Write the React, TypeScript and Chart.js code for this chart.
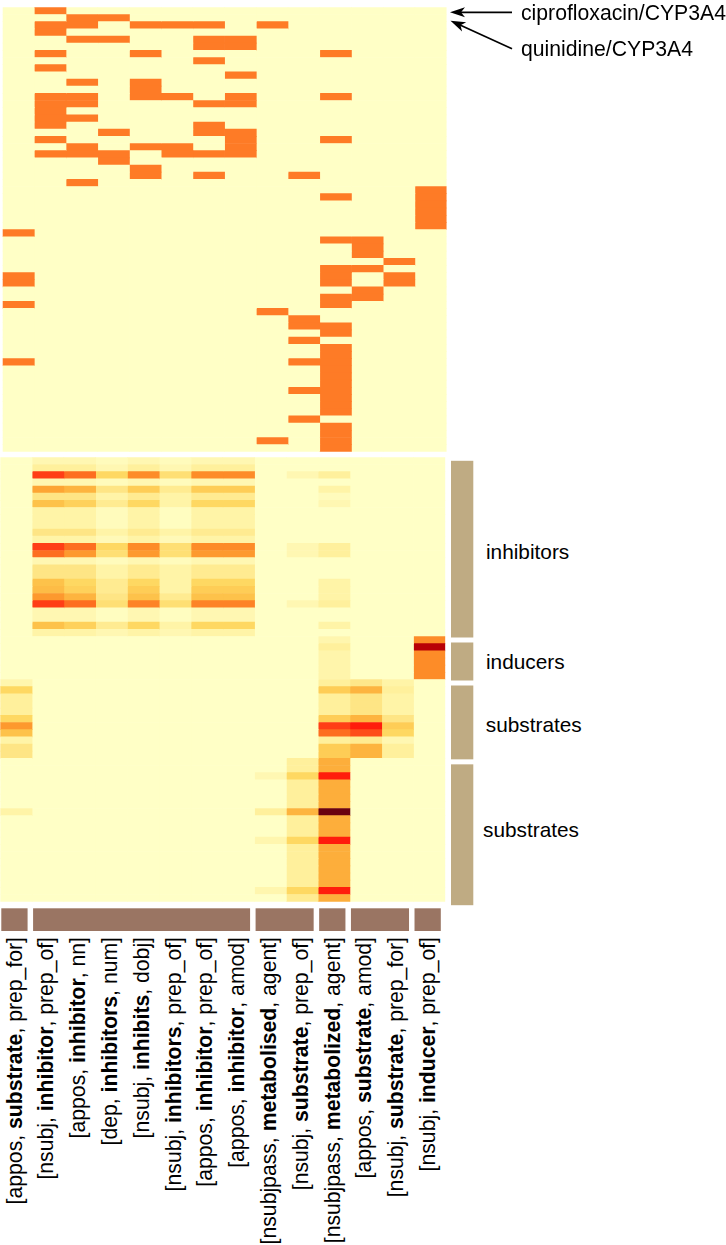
import React, { useEffect, useRef, useState } from 'react';
import { Chart, registerables } from 'chart.js';

Chart.register(...registerables);

// ---------------- data ----------------
const COLUMN_COUNT = 14;

const COL_DEP_LEFT = ['appos', 'nsubj', 'appos', 'dep', 'nsubj', 'nsubj', 'appos', 'appos', 'nsubjpass', 'nsubj', 'nsubjpass', 'appos', 'nsubj', 'nsubj'];
const COL_KEYWORD = ['substrate', 'inhibitor', 'inhibitor', 'inhibitors', 'inhibits', 'inhibitors', 'inhibitor', 'inhibitor', 'metabolised', 'substrate', 'metabolized', 'substrate', 'substrate', 'inducer'];
const COL_DEP_RIGHT = ['prep_for', 'prep_of', 'nn', 'num', 'dobj', 'prep_of', 'prep_of', 'amod', 'agent', 'prep_of', 'agent', 'amod', 'prep_for', 'prep_of'];
const COL_GROUPS: [number, number][] = [[0, 1], [1, 8], [8, 10], [10, 11], [11, 13], [13, 14]];

const ROW_GROUP_LABELS = ['inhibitors', 'inducers', 'substrates', 'substrates'];
const ROW_GROUP_BOUNDS: [number, number][] = [[0, 25], [25, 31], [31, 42], [42, 62]];

const ARROW_LABELS = ['ciprofloxacin/CYP3A4', 'quinidine/CYP3A4'];

// top heatmap: for every row, the columns that are present
const TOP_HITS_INHIBITORS: number[][] = [
  [1], [2, 3], [1, 2, 4, 5, 6, 8], [1], [2, 3, 6, 7], [6, 7], [1, 4, 10], [6], [1], [7],
  [2, 4], [4], [1, 2, 4, 5, 7, 10], [1, 2, 6, 7], [1], [1, 2], [1, 6], [3, 6, 7], [1, 7, 10], [2, 4, 5, 7],
  [1, 2, 3, 5, 6, 7], [3], [4], [4, 6, 9], [2],
];
const TOP_HITS_INDUCERS: number[][] = [[13], [10, 13], [13], [13], [13], [13]];
const TOP_HITS_SUBSTRATES_A: number[][] = [[0], [10, 11], [11], [11], [12], [10, 11], [0, 10, 12], [0, 10, 12], [11], [10, 11], [0, 10]];
const TOP_HITS_SUBSTRATES_B: number[][] = [
  [8], [9], [9, 10], [10], [9], [10], [10], [0, 9, 10], [10], [10],
  [10], [9, 10], [10], [10], [10], [9], [10], [10], [8, 10], [10],
];

// bottom heatmap: graded scores (0 = none ... 12 = highest)
const BOTTOM_INHIBITORS: number[][] = [
  [0, 1, 1, 0.5, 1, 0.5, 1, 1, 0, 0, 0, 0, 0, 0],
  [0, 2, 2, 1, 2, 1, 2, 2, 0, 0, 0, 0, 0, 0],
  [0, 9, 8, 4, 7, 3.5, 7, 7, 0, 1, 2, 0, 0, 0],
  [0, 1, 1, 0.5, 1, 0.5, 1, 1, 0, 0, 0, 0, 0, 0],
  [0, 6, 5.5, 3, 4.5, 2.5, 4.5, 4.5, 0, 0, 1.5, 0, 0, 0],
  [0, 3, 3, 1.5, 2.5, 1.5, 2.5, 2.5, 0, 0, 0.5, 0, 0, 0],
  [0, 5, 4.3, 2.5, 4, 1.5, 4, 4, 0, 0, 1, 0, 0, 0],
  [0, 1.5, 1.5, 0.5, 1.5, 0.3, 1.5, 1.5, 0, 0, 0, 0, 0, 0],
  [0, 1.5, 1.5, 0.5, 1.5, 0.3, 1.5, 1.5, 0, 0, 0, 0, 0, 0],
  [0, 1.5, 1.5, 0.5, 1.5, 0.3, 1.5, 1.5, 0, 0, 0, 0, 0, 0],
  [0, 3, 3, 1.5, 2.5, 1.5, 2.5, 2.5, 0, 0, 0, 0, 0, 0],
  [0, 1.5, 1.5, 0.7, 1.5, 0.7, 1.5, 1.5, 0, 0, 0, 0, 0, 0],
  [0, 9, 8, 4, 7, 3.5, 7, 7, 0, 1, 2, 0, 0, 0],
  [0, 8, 6.5, 3.5, 6.5, 3.5, 6.5, 6.5, 0, 1, 2, 0, 0, 0],
  [0, 1, 1, 0.5, 1, 0.5, 1, 1, 0, 0, 0, 0, 0, 0],
  [0, 3, 3, 1.5, 2.5, 1.5, 2.5, 2.5, 0, 0, 0, 0, 0, 0],
  [0, 3, 3, 1.5, 2.5, 1.5, 2.5, 2.5, 0, 0, 0, 0, 0, 0],
  [0, 5, 4, 2.5, 4, 1.5, 4, 4, 0, 0, 1.5, 0, 0, 0],
  [0, 5.2, 4.3, 2.5, 4.5, 1.5, 4.5, 4.5, 0, 0, 1.5, 0, 0, 0],
  [0, 6.5, 5.5, 3, 5, 2.5, 5, 5, 0, 0, 1.5, 0, 0, 0],
  [0, 9, 8, 3.5, 7.3, 3.5, 7.3, 7.3, 0, 1, 2, 0, 0, 0],
  [0, 1, 1, 0.3, 1, 0.3, 1, 1, 0, 0, 0, 0, 0, 0],
  [0, 1, 1, 0.3, 1, 0.3, 1, 1, 0, 0, 0, 0, 0, 0],
  [0, 5, 4.3, 2.5, 4, 1.5, 4, 4, 0, 0, 1.5, 0, 0, 0],
  [0, 1.5, 1.5, 1, 1.5, 1, 1.5, 1.5, 0, 0, 0, 0, 0, 0],
];
const BOTTOM_INDUCERS: number[][] = [
  [0, 0, 0, 0, 0, 0, 0, 0, 0, 0, 1.2, 0, 0, 7],
  [0, 0, 0, 0, 0, 0, 0, 0, 0, 0, 2, 0, 0, 11],
  [0, 0, 0, 0, 0, 0, 0, 0, 0, 0, 1.3, 0, 0, 7],
  [0, 0, 0, 0, 0, 0, 0, 0, 0, 0, 1.3, 0, 0, 7],
  [0, 0, 0, 0, 0, 0, 0, 0, 0, 0, 1.3, 0, 0, 7],
  [0, 0, 0, 0, 0, 0, 0, 0, 0, 0, 1.3, 0, 0, 7],
];
const BOTTOM_SUBSTRATES_A: number[][] = [
  [1.2, 0, 0, 0, 0, 0, 0, 0, 0, 0, 2, 2.8, 1.5, 0],
  [4, 0, 0, 0, 0, 0, 0, 0, 0, 0, 4.5, 5.5, 2, 0],
  [2, 0, 0, 0, 0, 0, 0, 0, 0, 0, 2, 3, 1.5, 0],
  [2, 0, 0, 0, 0, 0, 0, 0, 0, 0, 2, 3, 1.5, 0],
  [2, 0, 0, 0, 0, 0, 0, 0, 0, 0, 2, 3, 1.5, 0],
  [4, 0, 0, 0, 0, 0, 0, 0, 0, 0, 4.5, 5.5, 3, 0],
  [6.5, 0, 0, 0, 0, 0, 0, 0, 0, 0, 9, 10, 4.5, 0],
  [5, 0, 0, 0, 0, 0, 0, 0, 0, 0, 8, 8.7, 4, 0],
  [1.5, 0, 0, 0, 0, 0, 0, 0, 0, 0, 2, 2.5, 1, 0],
  [3, 0, 0, 0, 0, 0, 0, 0, 0, 0, 4.5, 5.5, 2, 0],
  [3, 0, 0, 0, 0, 0, 0, 0, 0, 0, 4.5, 5.5, 2, 0],
];
const BOTTOM_SUBSTRATES_B: number[][] = [
  [0, 0, 0, 0, 0, 0, 0, 0, 0, 2, 5.7, 0, 0, 0],
  [0, 0, 0, 0, 0, 0, 0, 0, 0, 2, 5.7, 0, 0, 0],
  [0, 0, 0, 0, 0, 0, 0, 0, 1, 4, 10, 0, 0, 0],
  [0, 0, 0, 0, 0, 0, 0, 0, 0, 2, 5.7, 0, 0, 0],
  [0, 0, 0, 0, 0, 0, 0, 0, 0, 2, 5.7, 0, 0, 0],
  [0, 0, 0, 0, 0, 0, 0, 0, 0, 2, 5.7, 0, 0, 0],
  [0, 0, 0, 0, 0, 0, 0, 0, 0, 2, 5.7, 0, 0, 0],
  [1.5, 0, 0, 0, 0, 0, 0, 0, 2, 5.5, 12, 0, 0, 0],
  [0, 0, 0, 0, 0, 0, 0, 0, 0, 2, 5.7, 0, 0, 0],
  [0, 0, 0, 0, 0, 0, 0, 0, 0, 2, 5.7, 0, 0, 0],
  [0, 0, 0, 0, 0, 0, 0, 0, 0, 2, 5.7, 0, 0, 0],
  [0, 0, 0, 0, 0, 0, 0, 0, 1.2, 4, 10, 0, 0, 0],
  [0, 0, 0, 0, 0, 0, 0, 0, 0, 2, 5.7, 0, 0, 0],
  [0, 0, 0, 0, 0, 0, 0, 0, 0, 2, 5.7, 0, 0, 0],
  [0, 0, 0, 0, 0, 0, 0, 0, 0, 2, 5.7, 0, 0, 0],
  [0, 0, 0, 0, 0, 0, 0, 0, 0, 2, 5.7, 0, 0, 0],
  [0, 0, 0, 0, 0, 0, 0, 0, 0, 2, 5.7, 0, 0, 0],
  [0, 0, 0, 0, 0, 0, 0, 0, 0, 2, 5.7, 0, 0, 0],
  [0, 0, 0, 0, 0, 0, 0, 0, 1.2, 4, 10, 0, 0, 0],
  [0, 0, 0, 0, 0, 0, 0, 0, 0, 2.5, 5.7, 0, 0, 0],
];

// ---------------- styles ----------------
const PALE = '#FFFFC6';
const HIT = '#FE7B26';
const COL_GROUP_COLOR = '#9A7563';
const ROW_GROUP_COLOR = '#BFAB83';
const FONT = '"Liberation Sans", Arial, Helvetica, sans-serif';
const HEAT_STOPS: [number, string][] = [
  [0, '#FFFFC6'], [1, '#FFF7B2'], [2, '#FFF09C'], [3, '#FEE585'], [4, '#FED862'],
  [5, '#FDC24A'], [6, '#FDA534'], [7, '#FD8C28'], [8, '#FD6E20'], [9, '#FF3E16'],
  [10, '#FF1C0C'], [11, '#B80006'], [12, '#6A0010'],
];

function hexRgb(h: string): number[] {
  return [parseInt(h.slice(1, 3), 16), parseInt(h.slice(3, 5), 16), parseInt(h.slice(5, 7), 16)];
}
function heatColor(v: number): string {
  if (v <= HEAT_STOPS[0][0]) return HEAT_STOPS[0][1];
  for (let i = 1; i < HEAT_STOPS.length; i++) {
    const [v1, c1] = HEAT_STOPS[i];
    if (v <= v1) {
      const [v0, c0] = HEAT_STOPS[i - 1];
      const t = (v - v0) / (v1 - v0);
      const a = hexRgb(c0), b = hexRgb(c1);
      const m = a.map((x, k) => Math.round(x + (b[k] - x) * t));
      return `rgb(${m[0]},${m[1]},${m[2]})`;
    }
  }
  return HEAT_STOPS[HEAT_STOPS.length - 1][1];
}

function hitsToMatrix(hits: number[][]): number[][] {
  return hits.map((h) => Array.from({ length: COLUMN_COUNT }, (_, c) => (h.includes(c) ? 1 : 0)));
}

function heatmapConfig(rows: number[][], colorOf: (v: number) => string, padding: any, plugins: any[]) {
  const labels = rows.map((_, i) => String(i));
  const datasets = Array.from({ length: COLUMN_COUNT }, (_, c) => ({
    label: `${COL_DEP_LEFT[c]} ${COL_KEYWORD[c]} ${COL_DEP_RIGHT[c]}`,
    data: rows.map(() => 1),
    backgroundColor: rows.map((r) => colorOf(r[c])),
    borderWidth: 0,
    barPercentage: 1,
    categoryPercentage: 1,
    stack: 'cells',
  }));
  return {
    type: 'bar' as const,
    data: { labels, datasets },
    plugins,
    options: {
      indexAxis: 'y' as const,
      responsive: false,
      animation: false as const,
      events: [],
      layout: { padding },
      plugins: { legend: { display: false }, tooltip: { enabled: false } },
      scales: {
        x: { stacked: true, min: 0, max: COLUMN_COUNT, display: false },
        y: { stacked: true, display: false },
      },
    },
  };
}

const groupBarsPlugin = {
  id: 'groupBars',
  afterDatasetsDraw(chart: any) {
    const { ctx, chartArea, scales } = chart;
    const xs = scales.x;
    const ys = scales.y;
    const nRows = chart.data.labels.length;
    const band = (chartArea.bottom - chartArea.top) / nRows;
    ctx.save();
    ctx.fillStyle = COL_GROUP_COLOR;
    COL_GROUPS.forEach(([s, e]) => {
      const x0 = xs.getPixelForValue(s) + 1;
      const x1 = xs.getPixelForValue(e) - 4.5;
      ctx.fillRect(x0, chartArea.bottom + 6.6, x1 - x0, 22.7);
    });
    ctx.fillStyle = ROW_GROUP_COLOR;
    const last = ROW_GROUP_BOUNDS.length - 1;
    ROW_GROUP_BOUNDS.forEach(([s, e], i) => {
      const y0 = ys.getPixelForValue(s) - band / 2 + 3.5 + (i > 0 ? 2.5 : 0);
      const y1 = ys.getPixelForValue(e - 1) + band / 2 + 3.5 - (i < last ? 2.5 : 0);
      ctx.fillRect(chartArea.right + 5.7, y0, 22.3, y1 - y0);
    });
    ctx.restore();
  },
};

const BOTTOM_TOP = 450;
const LABEL_TOP = 937;
const ROW_LABEL_SHIFT: [number, number][] = [[12.7, 1], [12.7, 0], [12.5, 2], [9.7, -5]];

function arrowHead(tx: number, ty: number, fx: number, fy: number): string {
  const dx = tx - fx, dy = ty - fy;
  const len = Math.hypot(dx, dy);
  const ux = dx / len, uy = dy / len;
  const nx = -uy, ny = ux;
  const L = 15, W = 5, N = 11;
  const p = [
    [tx, ty],
    [tx - L * ux + W * nx, ty - L * uy + W * ny],
    [tx - N * ux, ty - N * uy],
    [tx - L * ux - W * nx, ty - L * uy - W * ny],
  ];
  return p.map((q) => q.join(',')).join(' ');
}

export default function App() {
  const topRef = useRef<HTMLCanvasElement>(null);
  const botRef = useRef<HTMLCanvasElement>(null);
  const [layout, setLayout] = useState<{ cols: number[]; groups: number[]; right: number } | null>(null);

  useEffect(() => {
    const topRows = hitsToMatrix([...TOP_HITS_INHIBITORS, ...TOP_HITS_INDUCERS, ...TOP_HITS_SUBSTRATES_A, ...TOP_HITS_SUBSTRATES_B]);
    const botRows = [...BOTTOM_INHIBITORS, ...BOTTOM_INDUCERS, ...BOTTOM_SUBSTRATES_A, ...BOTTOM_SUBSTRATES_B];
    const top = new Chart(
      topRef.current!,
      heatmapConfig(topRows, (v) => (v > 0 ? HIT : PALE), { top: 7.3, left: 2.6, right: 3.4, bottom: 4.2 }, []) as any
    );
    const bot = new Chart(
      botRef.current!,
      heatmapConfig(botRows, heatColor, { top: 7.3, left: 0.3, right: 34.7, bottom: 32.3 }, [groupBarsPlugin]) as any
    );
    const xs: any = bot.scales.x;
    const ys: any = bot.scales.y;
    setLayout({
      cols: Array.from({ length: COLUMN_COUNT }, (_, i) => xs.getPixelForValue(i + 0.5)),
      groups: ROW_GROUP_BOUNDS.map(([s, e]) => BOTTOM_TOP + (ys.getPixelForValue(s) + ys.getPixelForValue(e - 1)) / 2 + 3.5),
      right: bot.chartArea.right + 5.7 + 22.3,
    });
    return () => {
      top.destroy();
      bot.destroy();
    };
  }, []);

  return (
    <div style={{ position: 'absolute', left: 0, top: 0, width: 726, height: 1245, background: '#fff', fontFamily: FONT, color: '#000', overflow: 'hidden' }}>
      <canvas ref={topRef} width={450} height={456} style={{ position: 'absolute', left: 0, top: 0 }} />
      <canvas ref={botRef} width={480} height={484} style={{ position: 'absolute', left: 0, top: BOTTOM_TOP }} />
      <svg width={726} height={60} style={{ position: 'absolute', left: 0, top: 0 }}>
        <line x1={512} y1={12.3} x2={460} y2={12.3} stroke="#000" strokeWidth={1.7} />
        <polygon points={arrowHead(450, 12.3, 512, 12.3)} fill="#000" />
        <line x1={512} y1={48.7} x2={460} y2={25.1} stroke="#000" strokeWidth={1.7} />
        <polygon points={arrowHead(450.5, 20.7, 512, 48.7)} fill="#000" />
      </svg>
      <div style={{ position: 'absolute', left: 521, top: 2.4, fontSize: 21.2, lineHeight: '21px', whiteSpace: 'nowrap' }}>{ARROW_LABELS[0]}</div>
      <div style={{ position: 'absolute', left: 521, top: 37.9, fontSize: 21.2, lineHeight: '21px', whiteSpace: 'nowrap' }}>{ARROW_LABELS[1]}</div>
      {layout &&
        ROW_GROUP_LABELS.map((lab, i) => (
          <div
            key={'g' + i}
            style={{
              position: 'absolute',
              left: layout.right + ROW_LABEL_SHIFT[i][0],
              top: layout.groups[i] + ROW_LABEL_SHIFT[i][1],
              transform: 'translateY(-50%)',
              fontSize: 20.8,
              lineHeight: '21px',
              whiteSpace: 'nowrap',
            }}
          >
            {lab}
          </div>
        ))}
      {layout &&
        layout.cols.map((cx, i) => (
          <div
            key={'c' + i}
            style={{
              position: 'absolute',
              left: cx - 2.5,
              top: LABEL_TOP,
              transformOrigin: '0 0',
              transform: 'rotate(-90deg) translate(-100%, -50%)',
              fontSize: 21.2,
              lineHeight: '21px',
              whiteSpace: 'nowrap',
            }}
          >
            [{COL_DEP_LEFT[i]}, <b>{COL_KEYWORD[i]}</b>, {COL_DEP_RIGHT[i]}]
          </div>
        ))}
    </div>
  );
}
